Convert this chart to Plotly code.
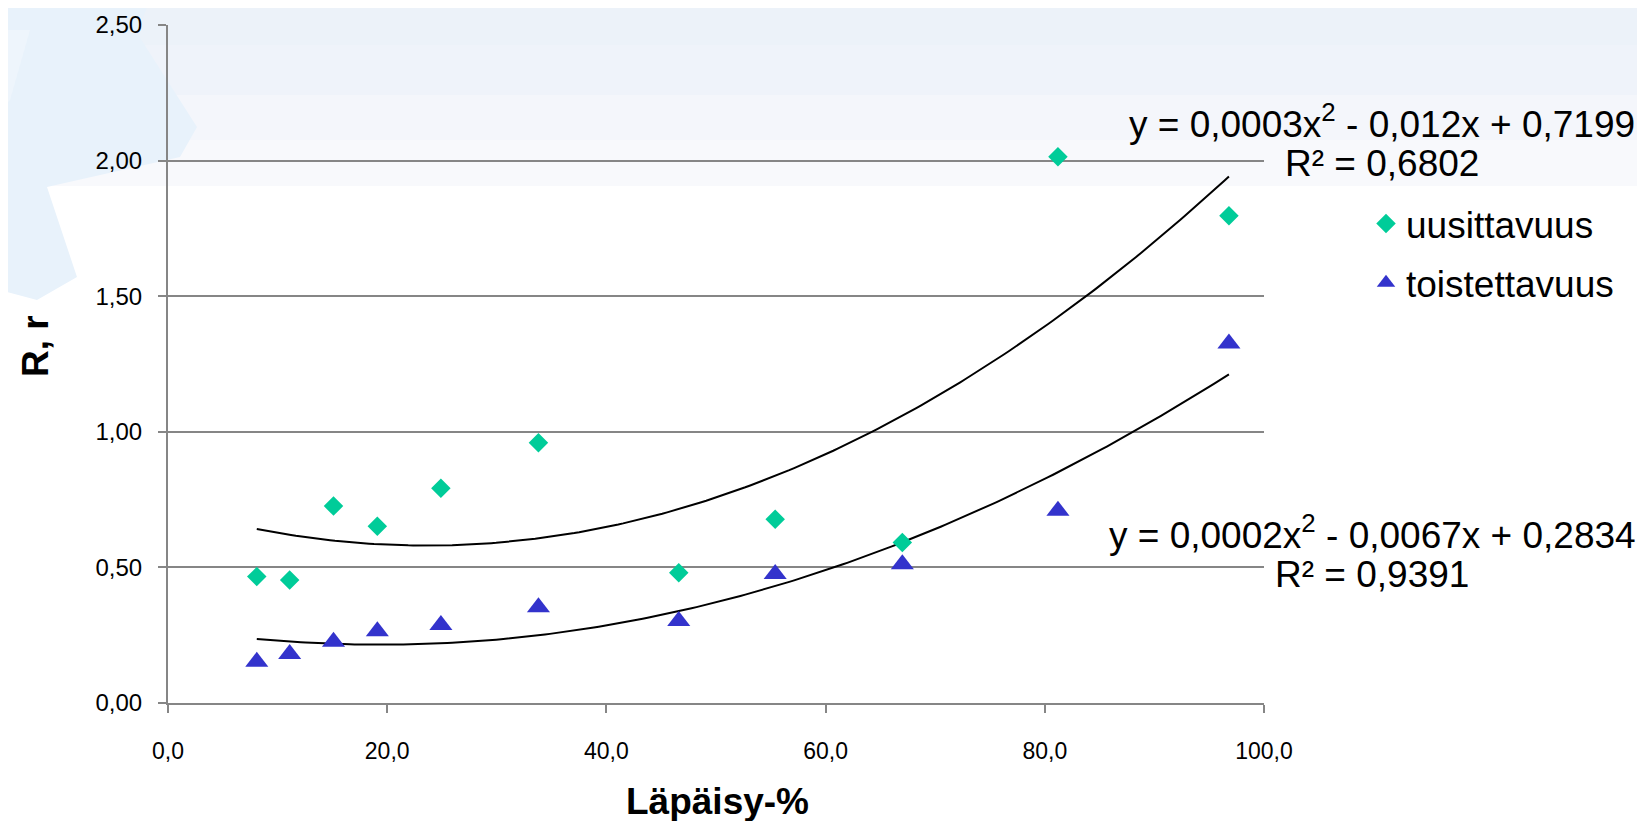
import numpy as np
import plotly.graph_objects as go

# ---- data ----
lapaisy = [8.1, 11.1, 15.1, 19.1, 24.9, 33.8, 46.6, 55.4, 67.0, 81.2, 96.8]
uusittavuus = [0.466, 0.454, 0.726, 0.652, 0.792, 0.960, 0.480, 0.678, 0.592, 2.014, 1.797]
toistettavuus = [0.152, 0.181, 0.226, 0.265, 0.288, 0.353, 0.302, 0.476, 0.512, 0.709, 1.326]
series_names = ["uusittavuus", "toistettavuus"]
eq_lines = [["y = 0,0003x<sup>2</sup> - 0,012x + 0,7199", "R² = 0,6802"],
            ["y = 0,0002x<sup>2</sup> - 0,0067x + 0,2834", "R² = 0,9391"]]
x_title = "Läpäisy-%"
y_title = "R, r"

# figure is placed by the page at (8, 8): all pixel positions below are page coords - 8
OFF = 8
W, H = 1645 - OFF, 821 - OFF
L, R, T, B = 168 - OFF, 1264 - OFF, 25 - OFF, 703 - OFF


def px(x):  # page pixel -> paper
    return (x - OFF - L) / (R - L)


def py(y):
    return (B - (y - OFF)) / (B - T)


FONT = "Arial, 'Liberation Sans', sans-serif"
green = "#00CC99"
blue = "#3333CC"

fig = go.Figure()

# trendlines (2nd order polynomial fits of the data)
xs = np.linspace(min(lapaisy), max(lapaisy), 200)
for ys in (uusittavuus, toistettavuus):
    c = np.polyfit(lapaisy, ys, 2)
    fig.add_trace(go.Scatter(x=xs, y=np.polyval(c, xs), mode="lines",
                             line=dict(color="black", width=2),
                             showlegend=False, hoverinfo="skip"))

fig.add_trace(go.Scatter(x=lapaisy, y=uusittavuus, mode="markers", name=series_names[0],
                         legendgroup="a",
                         marker=dict(symbol="diamond", size=15, color=green)))
fig.add_trace(go.Scatter(x=lapaisy, y=toistettavuus, mode="markers", name=series_names[1],
                         legendgroup="b",
                         marker=dict(symbol="triangle-up", size=20, color=blue)))

shapes = []
# top light band of the slide background
band = [(0, 45, "#ecf2f9"), (45, 95, "#eff3fa"), (95, 140, "#f4f6fb"), (140, 186, "#f8f9fc")]
for y0, y1, col in band:
    shapes.append(dict(type="rect", xref="paper", yref="paper", layer="below",
                       x0=px(0), x1=px(1645), y0=py(y1), y1=py(y0),
                       fillcolor=col, line=dict(width=0)))
# faint decoration in the top-left corner
poly1 = [(0, 0), (150, 0), (137, 33), (197, 127), (180, 157), (47, 187), (77, 277), (37, 300), (0, 290)]
poly2 = [(0, 30), (30, 30), (10, 100), (0, 110)]
for pts, col in ((poly1, "#e8f2fb"), (poly2, "#eef5fc")):
    path = "M " + " L ".join(f"{px(a):.5f},{py(b):.5f}" for a, b in pts) + " Z"
    shapes.append(dict(type="path", xref="paper", yref="paper", layer="below",
                       path=path, fillcolor=col, line=dict(width=0)))


def ann(text, x, y, size, bold=False, angle=0):
    return dict(text=("<b>" + text + "</b>") if bold else text, xref="paper", yref="paper",
                x=px(x), y=py(y), xanchor="center", yanchor="middle", showarrow=False,
                textangle=angle, font=dict(family=FONT, size=size, color="black"))


annotations = [
    ann(eq_lines[0][0], 1382, 122, 37),
    ann(eq_lines[0][1], 1382, 164, 37),
    ann(eq_lines[1][0], 1372, 532, 37),
    ann(eq_lines[1][1], 1372, 574, 37),
    ann(x_title, 717, 801, 37, bold=True),
    ann(y_title, 35, 346, 37, bold=True, angle=-90),
]

fig.update_layout(
    width=W, height=H,
    margin=dict(l=L, r=W - R, t=T, b=H - B, pad=0, autoexpand=False),
    paper_bgcolor="white", plot_bgcolor="rgba(0,0,0,0)",
    separators=", ",
    font=dict(family=FONT, size=23, color="black"),
    shapes=shapes, annotations=annotations,
    showlegend=True,
    legend=dict(x=px(1366), y=py(193), xanchor="left", yanchor="top",
                bgcolor="rgba(0,0,0,0)", font=dict(family=FONT, size=37, color="black"),
                tracegroupgap=8, itemsizing="trace"),
    xaxis=dict(range=[0, 100], dtick=20, tickformat=".1f", showgrid=False, zeroline=False,
               showline=True, linecolor="#868686", linewidth=2,
               ticks="outside", ticklen=8, tickwidth=1.5, tickcolor="#868686",
               ticklabelstandoff=18, tickfont=dict(size=23), automargin=False),
    yaxis=dict(range=[0, 2.5], dtick=0.5, tickformat=".2f", showgrid=True,
               gridcolor="#868686", gridwidth=1.5, zeroline=False,
               showline=True, linecolor="#868686", linewidth=2,
               ticks="outside", ticklen=8, tickwidth=1.5, tickcolor="#868686",
               ticklabelstandoff=11, tickfont=dict(size=24), automargin=False),
)

fig.write_html("out.html")
